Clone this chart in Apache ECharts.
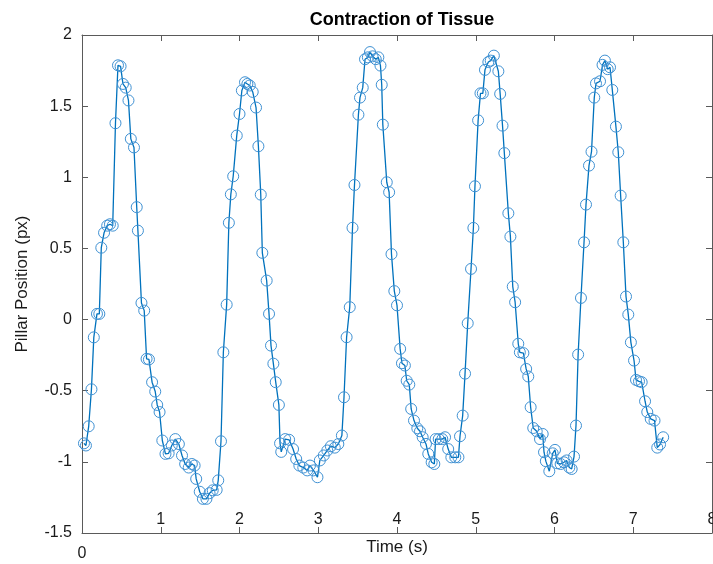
<!DOCTYPE html>
<html>
<head>
<meta charset="utf-8">
<script src="https://cdn.jsdelivr.net/npm/echarts@6/dist/echarts.min.js"></script>
<style>
html,body{margin:0;padding:0;background:#fff;overflow:hidden;width:713px;height:564px;}
#chart{width:713px;height:564px;}
</style>
</head>
<body>
<div id="chart"></div>
<script>
var titleText = 'Contraction of Tissue';
var xName = 'Time (s)';
var yName = 'Pillar Position (px)';
var xTicks = [0, 1, 2, 3, 4, 5, 6, 7, 8];
var yTicks = [-1.5, -1, -0.5, 0, 0.5, 1, 1.5, 2];

var times = [
  0.025,0.05,0.085,0.12,0.15,0.19,0.22,0.245,0.28,0.32,0.355,0.39,0.425,0.457,0.49,0.52,0.555,0.59,0.62,0.66,
  0.695,0.71,0.755,0.79,0.82,0.85,0.89,0.93,0.955,0.985,1.02,1.06,1.10,1.14,1.185,1.23,1.27,1.31,1.355,1.395,
  1.43,1.45,1.495,1.535,1.58,1.62,1.66,1.71,1.73,1.765,1.795,1.837,1.865,1.89,1.92,1.965,2.0,2.03,2.07,2.10,
  2.13,2.168,2.21,2.24,2.27,2.29,2.345,2.375,2.40,2.43,2.46,2.50,2.515,2.53,2.58,2.63,2.68,2.72,2.76,2.81,
  2.86,2.895,2.94,2.99,3.02,3.07,3.115,3.16,3.21,3.255,3.3,3.327,3.36,3.40,3.435,3.46,3.51,3.53,3.565,3.594,
  3.63,3.657,3.69,3.73,3.763,3.79,3.806,3.82,3.87,3.90,3.93,3.966,4.0,4.04,4.063,4.10,4.123,4.156,4.18,4.216,
  4.258,4.292,4.326,4.368,4.397,4.44,4.474,4.49,4.53,4.575,4.61,4.65,4.69,4.74,4.78,4.80,4.834,4.864,4.898,4.94,
  4.97,4.99,5.03,5.06,5.09,5.117,5.16,5.19,5.23,5.287,5.31,5.34,5.363,5.414,5.44,5.47,5.50,5.54,5.56,5.605,
  5.64,5.667,5.697,5.73,5.774,5.816,5.85,5.867,5.89,5.934,5.977,6.006,6.036,6.078,6.12,6.154,6.188,6.218,6.248,6.273,
  6.30,6.336,6.375,6.4,6.438,6.47,6.505,6.527,6.578,6.61,6.64,6.675,6.705,6.734,6.78,6.81,6.84,6.874,6.908,6.937,
  6.97,7.01,7.035,7.073,7.107,7.15,7.178,7.222,7.27,7.305,7.34,7.38
];
var positions = [
  -0.87,-0.885,-0.75,-0.49,-0.125,0.04,0.04,0.505,0.61,0.66,0.67,0.66,1.38,1.787,1.78,1.656,1.63,1.54,1.27,1.21,
  0.79,0.625,0.117,0.063,-0.276,-0.28,-0.44,-0.506,-0.6,-0.65,-0.85,-0.944,-0.94,-0.885,-0.84,-0.875,-0.955,-1.015,-1.04,-1.015,
  -1.026,-1.12,-1.21,-1.26,-1.26,-1.22,-1.2,-1.197,-1.13,-0.855,-0.23,0.105,0.68,0.88,1.007,1.293,1.445,1.61,1.668,1.656,
  1.645,1.6,1.49,1.218,0.878,0.469,0.274,0.04,-0.183,-0.31,-0.44,-0.6,-0.87,-0.93,-0.84,-0.845,-0.91,-0.98,-1.026,-1.04,
  -1.06,-1.026,-1.06,-1.108,-0.99,-0.955,-0.92,-0.89,-0.9,-0.875,-0.815,-0.546,-0.124,0.087,0.645,0.946,1.44,1.56,1.63,1.83,
  1.843,1.88,1.85,1.83,1.843,1.785,1.65,1.37,0.965,0.895,0.46,0.2,0.1,-0.206,-0.307,-0.323,-0.43,-0.457,-0.628,-0.71,
  -0.764,-0.785,-0.827,-0.874,-0.944,-1.003,-1.015,-0.84,-0.84,-0.84,-0.827,-0.91,-0.968,-0.968,-0.968,-0.82,-0.675,-0.38,-0.026,0.356,
  0.644,0.937,1.4,1.59,1.59,1.755,1.81,1.82,1.855,1.745,1.586,1.363,1.17,0.747,0.583,0.232,0.122,-0.17,-0.23,-0.236,
  -0.347,-0.4,-0.616,-0.762,-0.785,-0.84,-0.804,-0.932,-0.995,-1.066,-0.94,-0.916,-1.01,-1.015,-1.003,-0.99,-1.04,-1.05,-0.963,-0.745,
  -0.246,0.152,0.543,0.808,1.082,1.18,1.56,1.66,1.675,1.79,1.82,1.76,1.773,1.614,1.356,1.176,0.871,0.543,0.162,0.035,
  -0.16,-0.288,-0.424,-0.434,-0.44,-0.574,-0.65,-0.698,-0.71,-0.9,-0.878,-0.827
];

var seriesData = times.map(function (t, i) { return [t, positions[i]]; });

var FONT = '"Liberation Sans", Arial, sans-serif';
var AXIS_COLOR = '#5a5a5a';
var TEXT_COLOR = '#1a1a1a';
var xMin = xTicks[0], xMax = xTicks[xTicks.length - 1];
var yMin = yTicks[0], yMax = yTicks[yTicks.length - 1];

var chart = echarts.init(document.getElementById('chart'), null, {renderer: 'canvas', width: 713, height: 564});
chart.setOption({
  animation: false,
  backgroundColor: '#ffffff',
  title: {
    text: titleText,
    left: 397, top: 6, textAlign: 'center',
    textStyle: {fontFamily: FONT, fontWeight: 'bold', fontSize: 18, color: '#000'}
  },
  grid: {left: 82, right: 1, top: 35, bottom: 31, containLabel: false, outerBoundsMode: 'none'},
  xAxis: [
    {
      type: 'value', position: 'bottom', min: xMin, max: xMax, interval: 1,
      name: xName, nameLocation: 'middle', nameGap: 6,
      nameTextStyle: {fontFamily: FONT, fontSize: 17, color: TEXT_COLOR, verticalAlign: 'top'},
      axisLine: {show: true, onZero: false, lineStyle: {color: AXIS_COLOR, width: 1}},
      axisTick: {show: true, inside: true, length: 6, lineStyle: {color: AXIS_COLOR}},
      axisLabel: {inside: true, margin: 5, fontFamily: FONT, fontSize: 16, color: TEXT_COLOR,
        showMinLabel: true, showMaxLabel: true,
        formatter: function (v) { return v === xMin ? '' : String(v); }},
      splitLine: {show: false}
    },
    {
      type: 'value', position: 'top', min: xMin, max: xMax, interval: 1,
      axisLine: {show: true, onZero: false, lineStyle: {color: AXIS_COLOR, width: 1}},
      axisTick: {show: true, inside: true, length: 6, lineStyle: {color: AXIS_COLOR}},
      axisLabel: {show: false},
      splitLine: {show: false}
    },
    {
      type: 'value', position: 'bottom', min: xMin, max: xMax, interval: 1,
      axisLine: {show: false, onZero: false}, axisTick: {show: false},
      axisLabel: {margin: 13, fontFamily: FONT, fontSize: 16, color: TEXT_COLOR, showMinLabel: true,
        formatter: function (v) { return v === xMin ? String(v) : ''; }},
      splitLine: {show: false}
    }
  ],
  yAxis: [
    {
      type: 'value', position: 'left', min: yMin, max: yMax, interval: 0.5,
      name: yName, nameLocation: 'middle', nameGap: 51, nameRotate: 90,
      nameTextStyle: {fontFamily: FONT, fontSize: 17, color: TEXT_COLOR},
      axisLine: {show: true, onZero: false, lineStyle: {color: AXIS_COLOR, width: 1}},
      axisTick: {show: true, inside: true, length: 6, lineStyle: {color: AXIS_COLOR}},
      axisLabel: {margin: 10, fontFamily: FONT, fontSize: 16, color: TEXT_COLOR,
        showMinLabel: true, showMaxLabel: true},
      splitLine: {show: false}
    },
    {
      type: 'value', position: 'right', min: yMin, max: yMax, interval: 0.5,
      axisLine: {show: true, onZero: false, lineStyle: {color: AXIS_COLOR, width: 1}},
      axisTick: {show: true, inside: true, length: 6, lineStyle: {color: AXIS_COLOR}},
      axisLabel: {show: false},
      splitLine: {show: false}
    }
  ],
  series: [{
    type: 'line',
    xAxisIndex: 0, yAxisIndex: 0,
    data: seriesData,
    showAllSymbol: true,
    symbol: 'circle',
    symbolSize: 11,
    itemStyle: {color: 'rgba(0,0,0,0)', borderColor: '#3f91d3', borderWidth: 1},
    lineStyle: {color: '#0072BD', width: 1.3},
    emphasis: {disabled: true}
  }]
});
</script>
</body>
</html>
